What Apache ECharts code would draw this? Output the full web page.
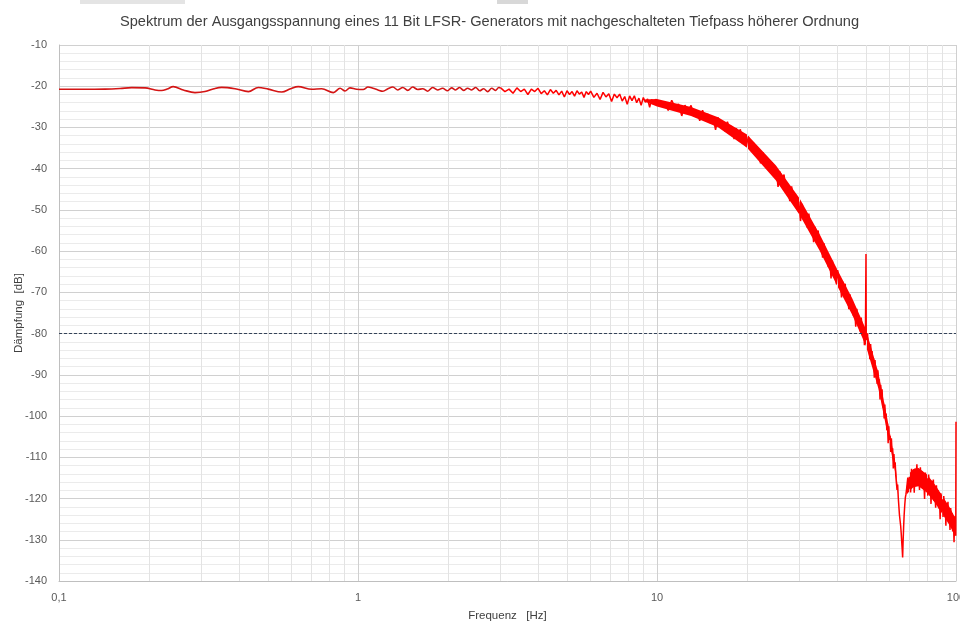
<!DOCTYPE html>
<html>
<head>
<meta charset="utf-8">
<script src="https://cdn.jsdelivr.net/npm/echarts@6/dist/echarts.min.js"></script>
<style>html,body{margin:0;padding:0;background:#fff}#c{width:960px;height:626px}</style>
</head>
<body>
<div id="c"></div>
<script>
const titleText = 'Spektrum der Ausgangsspannung eines 11 Bit LFSR- Generators mit nachgeschalteten Tiefpass höherer Ordnung';
const xName = 'Frequenz   [Hz]';
const yName = 'Dämpfung  [dB]';
const yTicks = [-140,-130,-120,-110,-100,-90,-80,-70,-60,-50,-40,-30,-20,-10];
const xMinorGrid = [0.2,0.3,0.4,0.5,0.6,0.7,0.8,0.9,2,3,4,5,6,7,8,9,20,30,40,50,60,70,80,90];
const refLevel = -80;

// 0.1 .. 3 Hz : smooth ripple
const lowBand = [[0.1,-20.75],[0.12,-20.75],[0.1425,-20.7],[0.16,-20.55],[0.175,-20.35],[0.194,-20.4],[0.2095,-20.9],[0.2205,-21.05],[0.23,-20.7],[0.241,-20.1],[0.2605,-20.9],[0.285,-21.55],[0.3077,-21.3],[0.33,-20.6],[0.35,-20.27],[0.388,-20.6],[0.43,-21.3],[0.464,-20.3],[0.501,-20.7],[0.556,-21.4],[0.595,-20.6],[0.631,-20.1],[0.7,-20.75],[0.756,-20.6],[0.827,-21.55],[0.871,-20.5],[0.905,-21.15],[0.94,-20.4],[0.99,-20.75],
[1.04,-20.8],[1.08,-20.2],[1.122,-20.5],[1.166,-20.9],[1.211,-21.2],[1.259,-20.6],[1.308,-20.2],[1.359,-20.9],[1.412,-20.3],[1.467,-21.0],[1.524,-20.2],[1.584,-20.8],[1.646,-20.6],[1.71,-21.2],[1.777,-20.3],[1.846,-20.9],[1.918,-20.5],[1.993,-21.1],[2.056,-20.4],[2.12,-20.9],[2.186,-20.3],[2.255,-21.0],[2.326,-20.5],[2.399,-20.9],[2.474,-20.3],[2.552,-21.1],[2.632,-20.6],[2.715,-21.3],[2.8,-20.5],[2.888,-21.0],[2.956,-20.3],[3.0,-20.4]];

// 3 .. 10 Hz
const midBand = [[3.0,-20.4],[3.1,-21.3],[3.2,-20.7],[3.3,-21.7],[3.4,-20.4],[3.5,-21.3],[3.6,-20.7],[3.7,-22.0],[3.8,-20.7],[3.9,-21.3],[4.0,-20.5],[4.1,-21.8],[4.2,-21.1],[4.3,-22.1],[4.4,-20.8],[4.5,-21.7],[4.6,-21.0],[4.7,-22.1],[4.8,-21.2],[4.9,-22.6],[5.0,-21.1],[5.1,-22.0],[5.2,-21.3],[5.3,-22.4],[5.4,-21.1],[5.5,-21.9],[5.6,-21.4],[5.7,-22.7],[5.8,-21.3],[5.9,-22.0],[6.0,-21.2],
[6.15,-22.7],[6.3,-21.7],[6.45,-23.2],[6.6,-21.5],[6.75,-22.6],[6.9,-21.8],[7.05,-23.7],[7.2,-21.9],[7.35,-22.8],[7.5,-21.9],[7.65,-23.6],[7.8,-22.5],[7.95,-24.4],[8.1,-22.35],[8.25,-23.5],[8.4,-22.3],[8.55,-24.0],[8.7,-22.9],[8.85,-24.6],[9.0,-22.75],[9.15,-23.9],[9.3,-23.1],[9.45,-25.1],[9.6,-23.2],[9.75,-24.5],[9.9,-23.15]];

// 10 .. 50 Hz
const highBand = [[10.0,-22.85],[10.3,-24.7],[10.6,-23.7],[10.9,-25.9],[11.2,-23.4],[11.5,-25.2],[11.8,-24.3],[12.1,-27.2],[12.4,-24.6],[12.7,-25.9],[13.0,-24.65],[13.3,-27.3],[13.6,-26.1],[13.9,-28.4],[14.2,-25.8],[14.5,-27.7],[14.8,-26.7],[15.1,-29.0],[15.4,-27.6],[15.7,-30.6],[16.0,-27.55],[16.3,-29.55],[16.6,-28.65],[16.9,-30.95],[17.2,-28.6],[17.5,-30.5],[17.8,-29.7],[18.1,-32.8],[18.4,-30.2],[18.7,-31.6],[19.0,-30.45],[19.3,-33.2],[19.6,-32.2],[19.9,-34.6],
[20.2,-32.2],[20.6,-34.4],[21.0,-33.6],[21.4,-36.4],[21.8,-35.3],[22.2,-38.7],[22.6,-36.0],[23.0,-38.4],[23.4,-37.8],[23.8,-40.4],[24.2,-38.4],[24.6,-40.6],[25.0,-39.7],[25.4,-44.4],[25.8,-40.7],[26.2,-43.0],[26.6,-41.4],[27.0,-45.6],[27.4,-44.2],[27.8,-47.9],[28.2,-44.3],[28.6,-47.4],[29.0,-46.1],[29.4,-49.9],[29.8,-48.0],[30.2,-52.7],[30.6,-48.5],[31.0,-51.7],[31.4,-50.6],[31.8,-54.3],[32.2,-50.9],[32.6,-54.0],[33.0,-53.0],[33.4,-57.8],[33.8,-54.1],[34.2,-56.5],[34.6,-55.0],[35.0,-59.3],[35.4,-57.9],[35.8,-61.6],[36.2,-58.1],[36.6,-61.2],[37.0,-60.0],[37.4,-63.8],[37.8,-61.9],[38.2,-66.6],[38.6,-62.3],[39.0,-65.5],[39.4,-64.3],[39.8,-68.0],[40.2,-64.6],[40.6,-67.6],[41.0,-66.5],[41.4,-71.2],[41.8,-67.4],[42.2,-69.6],[42.6,-67.9],[43.0,-72.1],[43.4,-70.6],[43.8,-74.1],[44.2,-70.5],[44.6,-73.4],[45.0,-72.1],[45.4,-75.7],[45.8,-73.7],[46.2,-78.3],[46.6,-74.0],[47.0,-77.1],[47.4,-75.9],[47.8,-79.5],[48.2,-76.1],[48.6,-79.1],[49.0,-78.1],[49.4,-82.8],[49.8,-79.1],[50.0,-60.7]];

// 50 .. 66 Hz roll-off to the notch
const rollOff = [[50.0,-60.7],[50.1,-81.0],[50.3,-81.6],[50.6,-79.9],[50.9,-84.1],[51.2,-82.6],[51.5,-86.2],[51.8,-82.5],[52.1,-85.5],[52.4,-84.2],[52.7,-87.9],[53.0,-86.0],[53.3,-90.7],[53.6,-86.4],[53.9,-89.6],[54.2,-88.5],[54.5,-92.2],[54.8,-88.9],[55.1,-92.0],[55.4,-91.1],[55.7,-96.0],[56.0,-92.4],[56.3,-94.9],[56.6,-93.5],[56.9,-97.9],[57.2,-96.7],[57.5,-100.6],[57.8,-97.2],[58.1,-100.5],[58.4,-99.4],[58.7,-103.4],[59.0,-101.8],[59.3,-106.6],[59.6,-102.5],[59.9,-105.8],[60.2,-104.8],[60.5,-108.7],[60.8,-105.4],[61.1,-108.6],[61.4,-107.8],[61.7,-112.7],[62.0,-109.2],[62.3,-111.8],[62.6,-111.2],[62.9,-114.5],[63.2,-114.4],[63.5,-117.9],[63.8,-116.6],[64.1,-119.7],[64.4,-120.1],[64.7,-124.0],[65.0,-124.3],[65.3,-126.6],[65.6,-128.6],[65.9,-131.0],[66.1,-132.5],[66.3,-134.3]];

// 66 .. 100 Hz stop band
const stopBand = [[66.3,-134.3],[66.5,-131.0],[66.8,-127.0],[67.1,-123.8],[67.4,-121.5],[67.7,-119.8],[68.0,-119.0],[68.4,-117.5],[69.0,-114.9],[69.5,-117.7],[70.0,-114.7],[70.5,-118.5],[71.0,-112.8],[71.5,-115.8],[72.0,-113.3],[72.5,-118.6],[73.0,-112.7],[73.5,-114.8],[74.0,-111.7],[74.5,-116.6],[75.0,-113.9],[75.5,-117.9],[76.0,-112.4],[76.5,-115.8],[77.0,-113.4],[77.5,-117.7],[78.0,-114.5],[78.5,-120.1],[79.0,-113.7],[79.5,-117.3],[80.0,-115.1],[80.5,-119.3],[81.0,-114.2],[81.5,-117.6],[82.0,-115.6],[82.5,-121.3],[83.0,-115.7],[83.5,-118.2],[84.0,-115.4],[84.5,-120.5],[85.0,-117.9],[85.5,-122.2],[86.0,-116.8],[86.5,-120.3],[87.0,-118.0],[87.5,-122.4],[88.0,-119.3],[88.5,-125.0],[89.0,-118.7],[89.5,-122.3],[90.0,-120.2],[90.5,-124.5],[91.0,-119.4],[91.5,-122.8],[92.0,-120.9],[92.5,-126.6],[93.0,-121.1],[93.5,-123.5],[94.0,-120.8],[94.5,-125.9],[95.0,-123.4],[95.5,-127.6],[96.0,-122.3],[96.5,-125.8],[97.0,-123.5],[97.5,-128.0],[98.0,-124.9],[98.5,-130.6],[99.0,-124.3],[99.5,-128.0],[99.8,-129.0],[100.0,-101.4]];

// solid core of the noise band (lower / upper edge)
const passEdgeF    = [9, 10, 13, 16, 20, 25, 30, 35, 40, 45, 50, 55, 60, 63, 64];
const passEdgeLow  = [-23.6, -24.9, -27.25, -29.95, -34.9, -42.85, -51.25, -59.9, -68.3, -75.5, -83.0, -93.3, -106.9, -114.65, -119.1];
const passEdgeHigh = [-23.2, -23.1, -25.05, -27.55, -31.7, -39.25, -47.25, -55.9, -64.3, -71.5, -79.0, -89.5, -103.7, -112.85, -118.3];
const stopEdgeF    = [68.4, 70, 72, 75, 80, 85, 90, 95, 99.5];
const stopEdgeLow  = [-119.0, -118.2, -117.25, -117.0, -118.6, -121.0, -123.7, -126.4, -129.1];
const stopEdgeHigh = [-117.0, -113.8, -112.85, -112.6, -114.2, -116.6, -119.3, -122.0, -124.7];

const spectrum = midBand.concat(highBand, rollOff.slice(1), stopBand.slice(1));

const red = '#ff0000';
function bandSeries(fs, lo, hi) {
  return {
    type: 'custom', silent: true, z: 4, data: [0],
    renderItem: function (params, api) {
      const upper = fs.map((f, i) => api.coord([f, hi[i]]));
      const lower = fs.map((f, i) => api.coord([f, lo[i]])).reverse();
      return {type: 'polygon', shape: {points: upper.concat(lower)}, style: {fill: red}};
    }
  };
}

const chart = echarts.init(document.getElementById('c'), null, {renderer: 'canvas'});
const font = 'Liberation Sans, Arial, sans-serif';
chart.setOption({
  animation: false,
  backgroundColor: '#ffffff',
  title: {
    text: titleText, left: 115, top: 9,
    textStyle: {fontFamily: font, fontSize: 14.6, fontWeight: 'normal', color: '#404040'}
  },
  grid: {left: 59, right: 4, top: 45, bottom: 45, containLabel: false, outerBoundsMode: 'none'},
  xAxis: {
    type: 'log', logBase: 10, min: 0.1, max: 100,
    name: xName, nameLocation: 'middle', nameGap: 29, nameMoveOverlap: false,
    nameTextStyle: {fontFamily: font, fontSize: 11.5, color: '#404040'},
    axisLine: {show: true, lineStyle: {color: '#bfbfbf', width: 1}},
    axisTick: {show: false},
    axisLabel: {fontFamily: font, fontSize: 11, color: '#595959', margin: 11,
      formatter: v => String(Math.round(v * 10) / 10).replace('.', ',')},
    splitLine: {show: true, lineStyle: {color: '#d0d0d0', width: 1}},
    minorTick: {show: false}, minorSplitLine: {show: false}
  },
  yAxis: {
    type: 'value', min: yTicks[0], max: yTicks[yTicks.length - 1], interval: 10,
    name: yName, nameLocation: 'middle', nameGap: 34, nameRotate: 90, nameMoveOverlap: false,
    nameTextStyle: {fontFamily: font, fontSize: 11.5, color: '#404040'},
    axisLine: {show: true, lineStyle: {color: '#bfbfbf', width: 1}},
    axisTick: {show: false},
    axisLabel: {fontFamily: font, fontSize: 11, color: '#595959', margin: 12},
    splitLine: {show: true, lineStyle: {color: '#d0d0d0', width: 1}},
    minorTick: {show: false, splitNumber: 5},
    minorSplitLine: {show: true, lineStyle: {color: '#ebebeb', width: 1}}
  },
  series: [
    {
      type: 'line', data: [lowBand[0]], symbol: 'none', silent: true, z: 1,
      lineStyle: {opacity: 0},
      markLine: {
        silent: true, symbol: 'none', animation: false,
        label: {show: false},
        lineStyle: {color: '#e3e3e3', width: 1, type: 'solid'},
        data: xMinorGrid.map(v => ({xAxis: v}))
      }
    },
    {
      type: 'line', data: [lowBand[0]], symbol: 'none', silent: true, z: 2,
      lineStyle: {opacity: 0},
      markLine: {
        silent: true, symbol: 'none', animation: false,
        label: {show: false},
        lineStyle: {color: '#34435a', width: 1, type: [3, 2]},
        data: [{yAxis: refLevel}]
      }
    },
    bandSeries(passEdgeF, passEdgeLow, passEdgeHigh),
    bandSeries(stopEdgeF, stopEdgeLow, stopEdgeHigh),
    {
      type: 'line', data: lowBand, symbol: 'none', smooth: 0.35, z: 5,
      lineStyle: {color: '#d41414', width: 1.6}
    },
    {
      type: 'line', data: spectrum, symbol: 'none', z: 5,
      lineStyle: {color: red, width: 1.5}
    }
  ],
  graphic: [
    {type: 'rect', shape: {x: 80, y: 0, width: 105, height: 4}, style: {fill: '#e4e4e4'}},
    {type: 'rect', shape: {x: 497, y: 0, width: 31, height: 4}, style: {fill: '#d8d8d8'}}
  ]
});
</script>
</body>
</html>
